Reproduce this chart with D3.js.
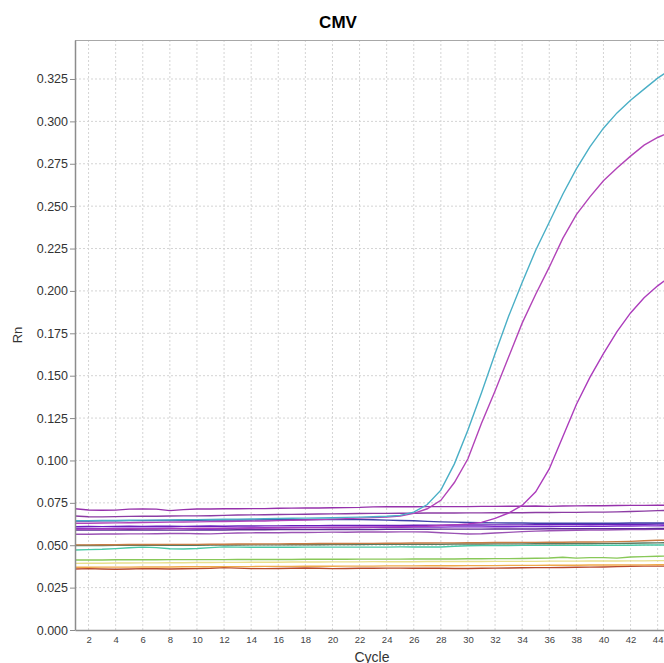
<!DOCTYPE html>
<html>
<head>
<meta charset="utf-8">
<script src="https://cdn.jsdelivr.net/npm/d3@7"></script>
<style>
  body { margin: 0; background: #fff; }
  svg { display: block; font-family: "Liberation Sans", Arial, sans-serif; }
</style>
</head>
<body>
<div id="chart"></div>
<script>
// amplification data, Rn per cycle (cycles 1..45)
const cycles = d3.range(1, 46);
const xTicks = d3.range(2, 47, 2);
const yTicks = d3.range(0, 14).map(i => i * 0.025);

const cyanCurve = [
  0.0645,0.0645,0.0646,0.0646,0.0647,0.0648,0.0648,0.0649,0.0650,0.0651,
  0.0652,0.0653,0.0654,0.0655,0.0656,0.0658,0.0659,0.0660,0.0661,0.0662,
  0.0664,0.0666,0.0668,0.0671,0.0676,0.0695,0.0740,0.0825,0.0980,0.1180,
  0.1400,0.1630,0.1850,0.2050,0.2240,0.2405,0.2570,0.2720,0.2850,0.2960,
  0.3050,0.3125,0.3190,0.3255,0.3310];
const magentaHigh = [
  0.0630,0.0630,0.0631,0.0632,0.0633,0.0634,0.0635,0.0636,0.0637,0.0638,
  0.0639,0.0640,0.0641,0.0642,0.0643,0.0645,0.0647,0.0649,0.0651,0.0654,
  0.0657,0.0660,0.0663,0.0666,0.0672,0.0688,0.0715,0.0765,0.0870,0.1010,
  0.1220,0.1410,0.1610,0.1810,0.1980,0.2140,0.2310,0.2450,0.2555,0.2650,
  0.2725,0.2795,0.2860,0.2905,0.2940];
const magentaLow = [
  0.0595,0.0596,0.0596,0.0597,0.0597,0.0598,0.0598,0.0599,0.0599,0.0600,
  0.0600,0.0601,0.0601,0.0602,0.0602,0.0603,0.0603,0.0604,0.0604,0.0605,
  0.0605,0.0606,0.0607,0.0608,0.0609,0.0610,0.0612,0.0616,0.0620,0.0625,
  0.0635,0.0658,0.0690,0.0735,0.0815,0.0950,0.1140,0.1330,0.1490,0.1630,
  0.1760,0.1870,0.1960,0.2030,0.2090];

const flatTop = [
  0.0715,0.0708,0.0706,0.0707,0.0713,0.0714,0.0713,0.0704,0.0710,0.0714,
  0.0714,0.0715,0.0715,0.0716,0.0716,0.0718,0.0719,0.0720,0.0720,0.0721,
  0.0722,0.0723,0.0726,0.0727,0.0727,0.0727,0.0728,0.0728,0.0728,0.0728,
  0.0729,0.0729,0.0730,0.0730,0.0731,0.0729,0.0731,0.0732,0.0733,0.0733,
  0.0734,0.0735,0.0735,0.0736,0.0736];
const flatSecond = [
  0.0672,0.0668,0.0667,0.0669,0.0670,0.0671,0.0671,0.0672,0.0673,0.0673,
  0.0674,0.0676,0.0678,0.0679,0.0680,0.0681,0.0682,0.0683,0.0684,0.0685,
  0.0686,0.0687,0.0688,0.0688,0.0689,0.0689,0.0690,0.0690,0.0690,0.0691,
  0.0691,0.0692,0.0692,0.0692,0.0693,0.0693,0.0694,0.0694,0.0695,0.0695,
  0.0697,0.0699,0.0701,0.0704,0.0706];
const flatBlue = [
  0.0643,0.0643,0.0644,0.0644,0.0645,0.0645,0.0646,0.0646,0.0647,0.0647,
  0.0648,0.0648,0.0649,0.0649,0.0650,0.0650,0.0651,0.0651,0.0652,0.0652,
  0.0652,0.0651,0.0650,0.0648,0.0646,0.0644,0.0641,0.0638,0.0636,0.0634,
  0.0633,0.0632,0.0631,0.0631,0.0630,0.0630,0.0630,0.0630,0.0630,0.0630,
  0.0630,0.0631,0.0631,0.0631,0.0632];
const flatViolet1 = [
  0.0610,0.0611,0.0610,0.0611,0.0612,0.0611,0.0612,0.0612,0.0611,0.0612,
  0.0613,0.0612,0.0613,0.0613,0.0614,0.0614,0.0615,0.0615,0.0615,0.0616,
  0.0616,0.0616,0.0617,0.0617,0.0617,0.0618,0.0618,0.0618,0.0619,0.0619,
  0.0619,0.0620,0.0620,0.0620,0.0621,0.0621,0.0622,0.0622,0.0622,0.0623,
  0.0625,0.0624,0.0624,0.0625,0.0625];
const flatViolet2 = [
  0.0600,0.0599,0.0598,0.0600,0.0601,0.0600,0.0600,0.0601,0.0598,0.0597,
  0.0596,0.0599,0.0601,0.0602,0.0603,0.0603,0.0604,0.0604,0.0604,0.0605,
  0.0605,0.0605,0.0606,0.0606,0.0606,0.0607,0.0607,0.0607,0.0608,0.0608,
  0.0608,0.0609,0.0609,0.0610,0.0610,0.0610,0.0611,0.0611,0.0612,0.0612,
  0.0613,0.0613,0.0614,0.0614,0.0615];
const flatViolet3 = [
  0.0590,0.0589,0.0589,0.0590,0.0591,0.0590,0.0590,0.0589,0.0589,0.0590,
  0.0590,0.0590,0.0591,0.0591,0.0591,0.0592,0.0592,0.0592,0.0592,0.0593,
  0.0593,0.0593,0.0593,0.0594,0.0594,0.0594,0.0594,0.0595,0.0595,0.0595,
  0.0595,0.0596,0.0596,0.0596,0.0596,0.0597,0.0597,0.0597,0.0597,0.0598,
  0.0598,0.0598,0.0598,0.0599,0.0599];
const flatLowPurple = [
  0.0565,0.0565,0.0566,0.0566,0.0567,0.0567,0.0568,0.0569,0.0570,0.0568,
  0.0567,0.0570,0.0572,0.0573,0.0574,0.0574,0.0575,0.0575,0.0576,0.0577,
  0.0577,0.0578,0.0578,0.0578,0.0579,0.0579,0.0578,0.0574,0.0570,0.0566,
  0.0568,0.0572,0.0576,0.0580,0.0583,0.0585,0.0587,0.0588,0.0589,0.0590,
  0.0591,0.0592,0.0593,0.0594,0.0594];
const flatOrangeBrown = [
  0.0502,0.0502,0.0503,0.0503,0.0504,0.0504,0.0504,0.0505,0.0505,0.0505,
  0.0506,0.0506,0.0507,0.0507,0.0508,0.0508,0.0509,0.0509,0.0510,0.0510,
  0.0510,0.0511,0.0511,0.0512,0.0512,0.0513,0.0513,0.0514,0.0514,0.0515,
  0.0515,0.0516,0.0516,0.0517,0.0517,0.0518,0.0518,0.0519,0.0519,0.0520,
  0.0521,0.0523,0.0526,0.0529,0.0530];
const flatOlive = [
  0.0498,0.0498,0.0498,0.0499,0.0499,0.0499,0.0500,0.0500,0.0500,0.0500,
  0.0501,0.0501,0.0501,0.0502,0.0502,0.0502,0.0503,0.0503,0.0503,0.0504,
  0.0504,0.0504,0.0505,0.0505,0.0505,0.0506,0.0506,0.0506,0.0507,0.0507,
  0.0507,0.0508,0.0508,0.0508,0.0509,0.0509,0.0509,0.0510,0.0510,0.0511,
  0.0511,0.0512,0.0513,0.0514,0.0515];
const flatTeal = [
  0.0472,0.0474,0.0476,0.0480,0.0485,0.0489,0.0486,0.0479,0.0478,0.0481,
  0.0486,0.0490,0.0489,0.0488,0.0488,0.0488,0.0488,0.0489,0.0489,0.0489,
  0.0489,0.0489,0.0489,0.0489,0.0490,0.0490,0.0490,0.0490,0.0494,0.0497,
  0.0498,0.0498,0.0498,0.0499,0.0499,0.0499,0.0499,0.0500,0.0500,0.0500,
  0.0500,0.0500,0.0501,0.0501,0.0501];
const flatGreen = [
  0.0413,0.0413,0.0413,0.0414,0.0414,0.0414,0.0414,0.0415,0.0415,0.0415,
  0.0415,0.0415,0.0416,0.0416,0.0416,0.0416,0.0416,0.0417,0.0417,0.0417,
  0.0417,0.0418,0.0418,0.0418,0.0418,0.0419,0.0419,0.0419,0.0419,0.0420,
  0.0420,0.0421,0.0421,0.0422,0.0423,0.0425,0.0429,0.0424,0.0427,0.0427,
  0.0424,0.0431,0.0433,0.0435,0.0436];
const flatYellow = [
  0.0393,0.0394,0.0394,0.0395,0.0395,0.0396,0.0396,0.0397,0.0397,0.0398,
  0.0398,0.0399,0.0399,0.0400,0.0400,0.0400,0.0401,0.0401,0.0401,0.0402,
  0.0402,0.0402,0.0403,0.0403,0.0403,0.0403,0.0404,0.0404,0.0404,0.0404,
  0.0404,0.0405,0.0405,0.0405,0.0405,0.0406,0.0406,0.0406,0.0407,0.0407,
  0.0407,0.0408,0.0408,0.0409,0.0409];
const flatOrange = [
  0.0370,0.0370,0.0371,0.0371,0.0371,0.0372,0.0372,0.0372,0.0373,0.0373,
  0.0373,0.0374,0.0374,0.0374,0.0375,0.0375,0.0375,0.0376,0.0376,0.0376,
  0.0377,0.0377,0.0377,0.0378,0.0378,0.0378,0.0379,0.0379,0.0379,0.0380,
  0.0380,0.0380,0.0381,0.0381,0.0381,0.0382,0.0382,0.0382,0.0383,0.0383,
  0.0383,0.0384,0.0384,0.0385,0.0385];
const flatRed = [
  0.0360,0.0362,0.0360,0.0358,0.0360,0.0362,0.0361,0.0360,0.0361,0.0362,
  0.0364,0.0368,0.0365,0.0362,0.0362,0.0363,0.0364,0.0366,0.0364,0.0362,
  0.0363,0.0364,0.0364,0.0365,0.0365,0.0364,0.0364,0.0364,0.0363,0.0363,
  0.0364,0.0365,0.0366,0.0367,0.0368,0.0368,0.0369,0.0370,0.0371,0.0372,
  0.0374,0.0376,0.0377,0.0377,0.0377];

const series = [
  { name: "red", values: flatRed, color: "#b84a2e" },
  { name: "orange", values: flatOrange, color: "#f0a848" },
  { name: "yellow", values: flatYellow, color: "#e8e08c" },
  { name: "green", values: flatGreen, color: "#88c858" },
  { name: "teal", values: flatTeal, color: "#48c8a4" },
  { name: "olive", values: flatOlive, color: "#5a7a62" },
  { name: "orangeBrown", values: flatOrangeBrown, color: "#c87c44" },
  { name: "lowPurple", values: flatLowPurple, color: "#9a52b4" },
  { name: "violet3", values: flatViolet3, color: "#5c2c96" },
  { name: "violet2", values: flatViolet2, color: "#7a26cc" },
  { name: "violet1", values: flatViolet1, color: "#6a1ebc" },
  { name: "blue", values: flatBlue, color: "#4040a8" },
  { name: "second", values: flatSecond, color: "#8c3ca4" },
  { name: "top", values: flatTop, color: "#9632ac" },
  { name: "magentaLow", values: magentaLow, color: "#ac3cbc" },
  { name: "magentaHigh", values: magentaHigh, color: "#b244b8" },
  { name: "cyan", values: cyanCurve, color: "#4aafc6" }
];

const W = 664, H = 663;
const margin = { top: 40, left: 75, bottom: 33 };
const plotBottom = H - margin.bottom;

const svg = d3.select("#chart").append("svg")
  .attr("width", W).attr("height", H);

const x = d3.scaleLinear()
  .domain([1, 46])
  .range([margin.left, margin.left + 45 * 13.55]);
const y = d3.scaleLinear()
  .domain([0, 0.348])
  .range([plotBottom, margin.top]);

// grid
svg.append("g").selectAll("line.v")
  .data(xTicks).join("line")
  .attr("x1", d => x(d)).attr("x2", d => x(d))
  .attr("y1", margin.top).attr("y2", plotBottom)
  .attr("stroke", "#d4d4d4").attr("stroke-dasharray", "2,2");
svg.append("g").selectAll("line.h")
  .data(yTicks.slice(1)).join("line")
  .attr("x1", margin.left).attr("x2", W)
  .attr("y1", d => y(d)).attr("y2", d => y(d))
  .attr("stroke", "#d4d4d4").attr("stroke-dasharray", "2,2");

// frame top
svg.append("line")
  .attr("x1", margin.left).attr("x2", W)
  .attr("y1", margin.top + 0.5).attr("y2", margin.top + 0.5)
  .attr("stroke", "#a8a8a8");

// curves
svg.append("clipPath").attr("id", "clip")
  .append("rect")
  .attr("x", margin.left).attr("y", margin.top)
  .attr("width", W - margin.left).attr("height", plotBottom - margin.top);

const line = d3.line()
  .x((d, i) => x(cycles[i]))
  .y(d => y(d));

svg.append("g").attr("clip-path", "url(#clip)")
  .selectAll("path")
  .data(series).join("path")
  .attr("d", d => line(d.values))
  .attr("fill", "none")
  .attr("stroke", d => d.color)
  .attr("stroke-width", 1.4);

// axes
const yAxis = svg.append("g")
  .attr("transform", `translate(${margin.left},0)`)
  .call(d3.axisLeft(y).tickValues(yTicks).tickFormat(d3.format(".3f")).tickSize(5).tickSizeOuter(0));
yAxis.select(".domain").attr("stroke", "#8c8c8c").attr("stroke-width", 1.5);
yAxis.selectAll(".tick line").attr("stroke", "#8c8c8c");
yAxis.selectAll(".tick text")
  .attr("font-size", 12.5).attr("fill", "#333").attr("x", -7);

const xAxis = svg.append("g")
  .attr("transform", `translate(0,${plotBottom})`)
  .call(d3.axisBottom(x).tickValues(xTicks).tickSize(0).tickSizeOuter(0));
xAxis.select(".domain").attr("stroke", "#8c8c8c").attr("stroke-width", 1.5);
xAxis.selectAll(".tick text")
  .attr("font-size", 9.5).attr("fill", "#444").attr("y", 6);

// titles
svg.append("text")
  .attr("x", 338).attr("y", 28)
  .attr("text-anchor", "middle")
  .attr("font-size", 17).attr("font-weight", "bold")
  .text("CMV");
svg.append("text")
  .attr("transform", "translate(22,335) rotate(-90)")
  .attr("text-anchor", "middle")
  .attr("font-size", 13).attr("fill", "#333")
  .text("Rn");
svg.append("text")
  .attr("x", 372).attr("y", 662)
  .attr("text-anchor", "middle")
  .attr("font-size", 14).attr("fill", "#333")
  .text("Cycle");
</script>
</body>
</html>
